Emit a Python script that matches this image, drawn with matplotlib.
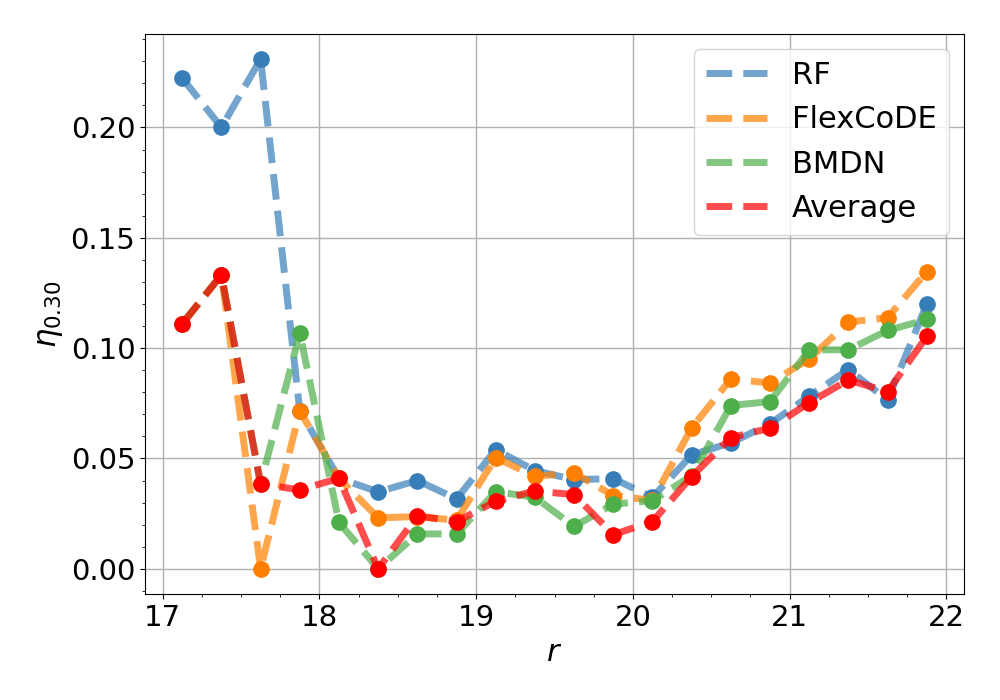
import numpy as np
import matplotlib
matplotlib.use("Agg")
import matplotlib.pyplot as plt
from matplotlib.ticker import MultipleLocator

# bin centres in r
r_bins = [17.125, 17.375, 17.625, 17.875, 18.125, 18.375, 18.625, 18.875,
          19.125, 19.375, 19.625, 19.875, 20.125, 20.375, 20.625, 20.875,
          21.125, 21.375, 21.625, 21.875]

eta_rf = [0.2224, 0.2000, 0.2310, 0.0716, 0.0410, 0.0349, 0.0400, 0.0317,
          0.0540, 0.0445, 0.0404, 0.0409, 0.0324, 0.0516, 0.0571, 0.0657,
          0.0783, 0.0903, 0.0765, 0.1200]
eta_flex = [0.1110, 0.1332, 0.0000, 0.0716, 0.0410, 0.0231, 0.0237, 0.0220,
            0.0504, 0.0419, 0.0435, 0.0332, 0.0310, 0.0639, 0.0860, 0.0842,
            0.0951, 0.1118, 0.1138, 0.1347]
eta_bmdn = [0.1110, 0.1332, 0.0386, 0.1069, 0.0210, 0.0000, 0.0158, 0.0158,
            0.0350, 0.0324, 0.0192, 0.0293, 0.0309, 0.0422, 0.0740, 0.0758,
            0.0992, 0.0993, 0.1080, 0.1130]
eta_avg = [0.1110, 0.1332, 0.0384, 0.0358, 0.0410, 0.0000, 0.0240, 0.0214,
           0.0306, 0.0353, 0.0336, 0.0155, 0.0214, 0.0418, 0.0595, 0.0637,
           0.0753, 0.0856, 0.0803, 0.1053]

series = [("RF", eta_rf, "#377eb8"),
          ("FlexCoDE", eta_flex, "#ff7f00"),
          ("BMDN", eta_bmdn, "#4daf4a"),
          ("Average", eta_avg, "red")]

fig = plt.figure(figsize=(10, 7), dpi=100)
ax = fig.add_axes([0.145, 0.151, 0.819, 0.801])

for name, vals, col in series:
    ax.plot(r_bins, vals, "--", color=col, lw=5, alpha=0.7, label=name)
    ax.plot(r_bins, vals, "o", color=col, ms=11, ls="none")

ax.set_xlabel(r"$r$", fontsize=22)
ax.set_ylabel(r"$\eta_{0.30}$", fontsize=22)
ax.tick_params(axis="both", which="major", labelsize=21)
ax.xaxis.set_minor_locator(MultipleLocator(0.25))
ax.yaxis.set_minor_locator(MultipleLocator(0.01))
ax.yaxis.set_major_locator(MultipleLocator(0.05))
ax.grid(True, which="major", color="#b0b0b0", lw=1)
ax.legend(loc="upper right", fontsize=22)

fig.savefig("out.png", dpi=100)
